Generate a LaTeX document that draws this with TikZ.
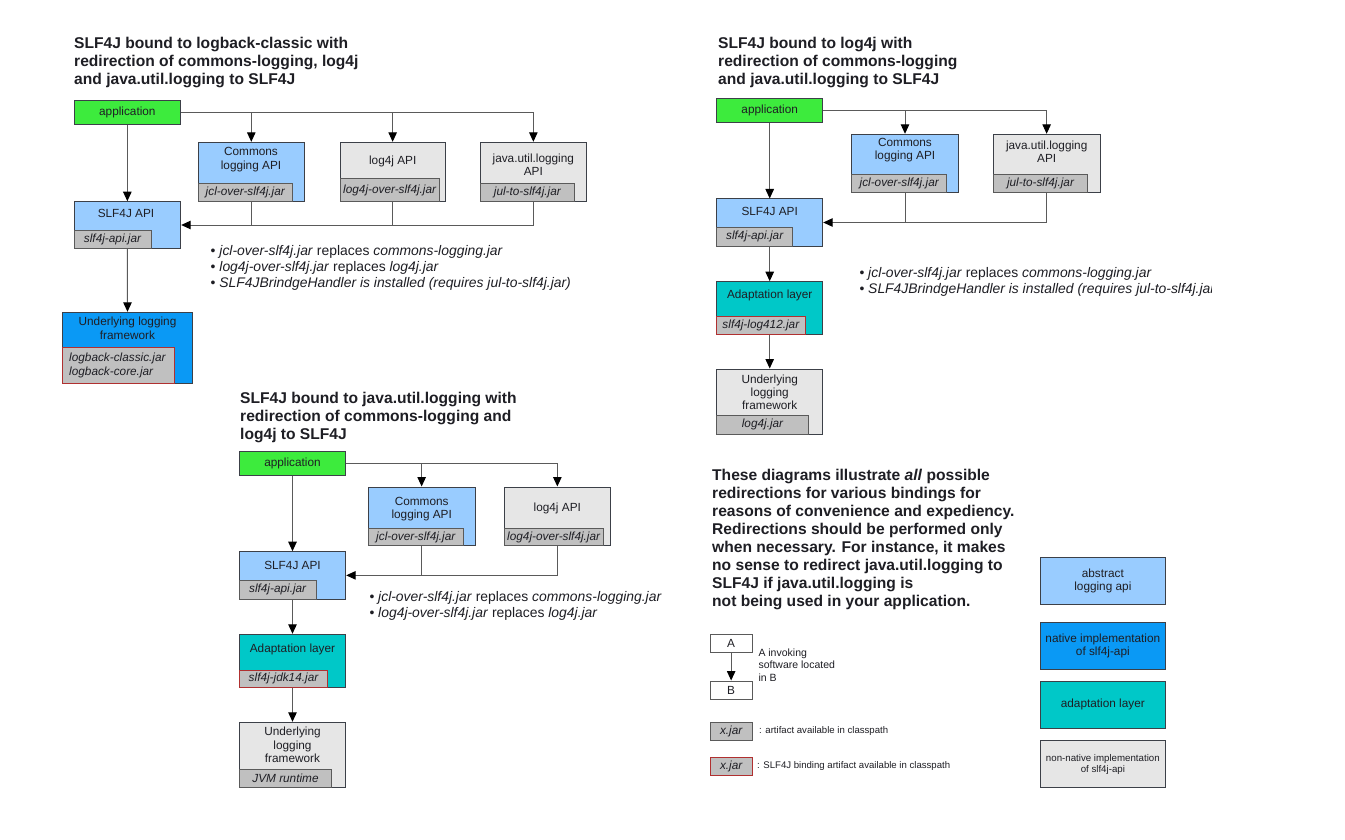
\documentclass[tikz,border=0pt]{standalone}
\usepackage{fontspec}
\setmainfont{Liberation Sans}
\usetikzlibrary{arrows.meta,fit}
\definecolor{appgreen}{HTML}{3DEB3D}
\definecolor{lblue}{HTML}{99CCFF}
\definecolor{nblue}{HTML}{0A99F5}
\definecolor{teal2}{HTML}{00C8C8}
\definecolor{lgray}{HTML}{E6E6E6}
\definecolor{jgray}{HTML}{C0C0C0}
\definecolor{bord}{HTML}{3C4048}
\definecolor{lncol}{HTML}{5A5A5A}
\definecolor{redb}{HTML}{B03030}
\definecolor{txt}{HTML}{1E1E24}
\newcommand\mkbox[4]{\node[fit={#3 #4}, inner sep=0pt, #2] (#1) {};}
\tikzset{
  bx/.style={draw=bord, line width=1pt},
  jarbx/.style={draw=lncol, line width=1pt, fill=jgray},
  redjar/.style={draw=redb, line width=1pt, fill=jgray},
  lbl/.style={font=\fontsize{11.8}{13.3}\selectfont, align=center, text=txt, inner sep=0pt},
  jtx/.style={font=\fontsize{11.8}{13.3}\selectfont\itshape, align=center, text=txt, inner sep=0pt},
  ttl/.style={font=\fontsize{15.6}{18}\selectfont\bfseries, align=left, anchor=west, text=txt, inner sep=0pt},
  bul/.style={font=\fontsize{13.9}{15.7}\selectfont, align=left, anchor=west, text=txt, inner sep=0pt},
  small/.style={font=\fontsize{9.6}{12}\selectfont, align=left, anchor=west, text=txt, inner sep=0pt},
  arr/.style={draw=lncol, line width=1pt, -{Triangle[length=9.5pt,width=8.5pt,color=black]}},
  ln/.style={draw=lncol, line width=1pt},
}
\begin{document}
\begin{tikzpicture}[x=1pt,y=-1pt]
\fill[white] (0,0) rectangle (1345,840);
\useasboundingbox (0,0) rectangle (1345,840);

% ================= Top-left diagram =================
\node[ttl] (tlt) at (74,63) {SLF4J bound to logback-classic with\\redirection of commons-logging, log4j\\and java.util.logging to SLF4J};
\mkbox{tlapp}{bx,fill=appgreen}{(74,100.7)}{(180.7,124.3)}
\node[lbl] (tlappt) at (tlapp) {application};
\mkbox{tlcl}{bx,fill=lblue}{(198.3,142.3)}{(304.3,201.7)}
\mkbox{tlclj}{jarbx}{(198.3,183.3)}{(292.3,201.7)}
\node[lbl] (tlclt) at (251,159.7) {Commons\\logging API};
\node[jtx] (tlcljt) at (tlclj) {jcl-over-slf4j.jar};
\mkbox{tll4}{bx,fill=lgray}{(340,142.3)}{(445.3,201.7)}
\mkbox{tll4j}{jarbx}{(340,178.3)}{(439.3,201.7)}
\node[lbl] (tll4t) at (392.7,161.7) {log4j API};
\node[jtx] (tll4jt) at (tll4j) {log4j-over-slf4j.jar};
\mkbox{tljul}{bx,fill=lgray}{(480.7,142.3)}{(586,201.7)}
\mkbox{tljulj}{jarbx}{(480.7,183.3)}{(574,201.7)}
\node[lbl] (tljult) at (533.3,165) {java.util.logging\\API};
\node[jtx] (tljuljt) at (tljulj) {jul-to-slf4j.jar};
\mkbox{tlslf}{bx,fill=lblue}{(74,201.7)}{(180.7,248.3)}
\mkbox{tlslfj}{jarbx}{(74,230)}{(151,248.3)}
\node[lbl] (tlslft) at (126,213.3) {SLF4J API};
\node[jtx] (tlslfjt) at (tlslfj) {slf4j-api.jar};
\mkbox{tlund}{bx,fill=nblue}{(62.3,312.3)}{(192.7,383.3)}
\mkbox{tlundj}{redjar}{(62.3,347.7)}{(174.3,383.3)}
\node[lbl] (tlundt) at (127.5,328.3) {Underlying logging\\framework};
\node[jtx, align=left, anchor=west] (tlundjt) at (69,365.5) {logback-classic.jar\\logback-core.jar};
\draw[arr] (tlapp.south) -- (tlslf.north);
\draw[arr] (tlapp.east) -| (tljul.north);
\draw[arr] (tlcl.north |- tlapp.east) -- (tlcl.north);
\draw[arr] (tll4.north |- tlapp.east) -- (tll4.north);
\draw[arr] (tljul.south) |- (tlslf.east);
\draw[ln] (tlcl.south) -- (tlcl.south |- tlslf.east);
\draw[ln] (tll4.south) -- (tll4.south |- tlslf.east);
\draw[arr] (tlslf.south) -- (tlund.north);
\node[bul] (tlbul) at (210.5,268) {• \textit{jcl-over-slf4j.jar} replaces \textit{commons-logging.jar}\\• \textit{log4j-over-slf4j.jar} replaces \textit{log4j.jar}\\• \textit{SLF4JBrindgeHandler is installed (requires jul-to-slf4j.jar)}};

% ================= Top-right diagram =================
\node[ttl] (trt) at (718,63) {SLF4J bound to log4j with\\redirection of commons-logging\\and java.util.logging to SLF4J};
\mkbox{trapp}{bx,fill=appgreen}{(716.7,98.3)}{(822.7,122.3)}
\node[lbl] (trappt) at (trapp) {application};
\mkbox{trcl}{bx,fill=lblue}{(851.7,134.3)}{(958.3,192.7)}
\mkbox{trclj}{jarbx}{(851.7,175)}{(946.7,192.7)}
\node[lbl] (trclt) at (905,150.3) {Commons\\logging API};
\node[jtx] (trcljt) at (trclj) {jcl-over-slf4j.jar};
\mkbox{trjul}{bx,fill=lgray}{(993.3,134.3)}{(1100,192.7)}
\mkbox{trjulj}{jarbx}{(993.3,175)}{(1087.7,192.7)}
\node[lbl] (trjult) at (1046.7,151.5) {java.util.logging\\API};
\node[jtx] (trjuljt) at (trjulj) {jul-to-slf4j.jar};
\mkbox{trslf}{bx,fill=lblue}{(716.7,199)}{(822.7,246)}
\mkbox{trslfj}{jarbx}{(716.7,227.7)}{(792.7,246)}
\node[lbl] (trslft) at (769.7,211) {SLF4J API};
\node[jtx] (trslfjt) at (trslfj) {slf4j-api.jar};
\mkbox{trad}{bx,fill=teal2}{(716.7,281.7)}{(822.7,334)}
\mkbox{tradj}{redjar}{(716.7,316.7)}{(805,334)}
\node[lbl] (tradt) at (769.7,295) {Adaptation layer};
\node[jtx] (tradjt) at (tradj) {slf4j-log412.jar};
\mkbox{trund}{bx,fill=lgray}{(716.7,369)}{(822.7,434)}
\mkbox{trundj}{jarbx}{(716.7,415.7)}{(808.3,434)}
\node[lbl] (trundt) at (769.7,392.3) {Underlying\\logging\\framework};
\node[jtx] (trundjt) at (trundj) {log4j.jar};
\draw[arr] (trapp.south) -- (trslf.north);
\draw[arr] (trapp.east) -| (trjul.north);
\draw[arr] (trcl.north |- trapp.east) -- (trcl.north);
\draw[arr] (trjul.south) |- (trslf.east);
\draw[ln] (trcl.south) -- (trcl.south |- trslf.east);
\draw[arr] (trslf.south) -- (trad.north);
\draw[arr] (trad.south) -- (trund.north);
\begin{scope}
\clip (850,260) rectangle (1211,300);
\node[bul] (trbul) at (859.3,281.7) {• \textit{jcl-over-slf4j.jar} replaces \textit{commons-logging.jar}\\• \textit{SLF4JBrindgeHandler is installed (requires jul-to-slf4j.jar)}};
\end{scope}

% ================= Bottom diagram =================
\node[ttl] (bmt) at (240,417) {SLF4J bound to java.util.logging with\\redirection of commons-logging and\\log4j to SLF4J};
\mkbox{bmapp}{bx,fill=appgreen}{(239.3,451.7)}{(345.7,475)}
\node[lbl] (bmappt) at (bmapp) {application};
\mkbox{bmcl}{bx,fill=lblue}{(368.3,487)}{(475,545.7)}
\mkbox{bmclj}{jarbx}{(368.3,528.3)}{(463.3,545.7)}
\node[lbl] (bmclt) at (421.7,509) {Commons\\logging API};
\node[jtx] (bmcljt) at (bmclj) {jcl-over-slf4j.jar};
\mkbox{bml4}{bx,fill=lgray}{(504,487)}{(610.7,545.7)}
\mkbox{bml4j}{jarbx}{(504,528.3)}{(603.3,545.7)}
\node[lbl] (bml4t) at (557.3,508.3) {log4j API};
\node[jtx] (bml4jt) at (bml4j) {log4j-over-slf4j.jar};
\mkbox{bmslf}{bx,fill=lblue}{(239.3,551.7)}{(345.7,599)}
\mkbox{bmslfj}{jarbx}{(239.3,580.7)}{(316,599)}
\node[lbl] (bmslft) at (292.5,565) {SLF4J API};
\node[jtx] (bmslfjt) at (bmslfj) {slf4j-api.jar};
\mkbox{bmad}{bx,fill=teal2}{(239.3,634.3)}{(345.7,687.3)}
\mkbox{bmadj}{redjar}{(239.3,670.3)}{(327.7,687.3)}
\node[lbl] (bmadt) at (292.5,649.3) {Adaptation layer};
\node[jtx] (bmadjt) at (bmadj) {slf4j-jdk14.jar};
\mkbox{bmund}{bx,fill=lgray}{(239.3,722.3)}{(345.7,787.7)}
\mkbox{bmundj}{jarbx}{(239.3,769.3)}{(331.7,787.7)}
\node[lbl] (bmundt) at (292.5,745) {Underlying\\logging\\framework};
\node[jtx] (bmundjt) at (bmundj) {JVM runtime};
\draw[arr] (bmapp.south) -- (bmslf.north);
\draw[arr] (bmapp.east) -| (bml4.north);
\draw[arr] (bmcl.north |- bmapp.east) -- (bmcl.north);
\draw[arr] (bml4.south) |- (bmslf.east);
\draw[ln] (bmcl.south) -- (bmcl.south |- bmslf.east);
\draw[arr] (bmslf.south) -- (bmad.north);
\draw[arr] (bmad.south) -- (bmund.north);
\node[bul] (bmbul) at (369.3,606.2) {• \textit{jcl-over-slf4j.jar} replaces \textit{commons-logging.jar}\\• \textit{log4j-over-slf4j.jar} replaces \textit{log4j.jar}};

% ================= Legend =================
\node[ttl] (para) at (712,539.3) {These diagrams illustrate \textit{all} possible\\redirections for various bindings for\\reasons of convenience and expediency.\\Redirections should be performed only\\when necessary. For instance, it makes\\no sense to redirect java.util.logging to\\SLF4J if java.util.logging is\\not being used in your application.};
\mkbox{la}{draw=lncol, line width=1pt, fill=white}{(710,634.3)}{(752.3,652.7)}
\node[lbl] (lat) at (la) {A};
\mkbox{lb}{draw=lncol, line width=1pt, fill=white}{(710,681)}{(752.3,699.3)}
\node[lbl] (lbt) at (lb) {B};
\draw[arr] (la.south) -- (lb.north);
\node[small, font=\fontsize{10.5}{12.4}\selectfont] (linv) at (758.3,665) {A invoking\\software located\\in B};
\mkbox{lj1}{jarbx}{(710,722.3)}{(752.3,740.7)}
\node[jtx] (lj1t) at (lj1) {x.jar};
\node[small] (lj1d) at (759,731.5) {: artifact available in classpath};
\mkbox{lj2}{redjar}{(710,757.7)}{(752.3,775.7)}
\node[jtx] (lj2t) at (lj2) {x.jar};
\node[small] (lj2d) at (757,766.5) {: SLF4J binding artifact available in classpath};
\mkbox{kabs}{bx,fill=lblue}{(1040.7,557.3)}{(1165,604.7)}
\node[lbl] (kabst) at (kabs) {abstract\\logging api};
\mkbox{knat}{bx,fill=nblue}{(1040.7,622.3)}{(1165,669.3)}
\node[lbl] (knatt) at (knat) {native implementation\\of slf4j-api};
\mkbox{kadp}{bx,fill=teal2}{(1040.7,681)}{(1165,728.3)}
\node[lbl] (kadpt) at (kadp) {adaptation layer};
\mkbox{knn}{bx,fill=lgray}{(1040.7,740.3)}{(1165,787.7)}
\node[lbl, font=\fontsize{9.7}{11}\selectfont] (knnt) at (knn) {non-native implementation\\of slf4j-api};
\end{tikzpicture}
\end{document}
